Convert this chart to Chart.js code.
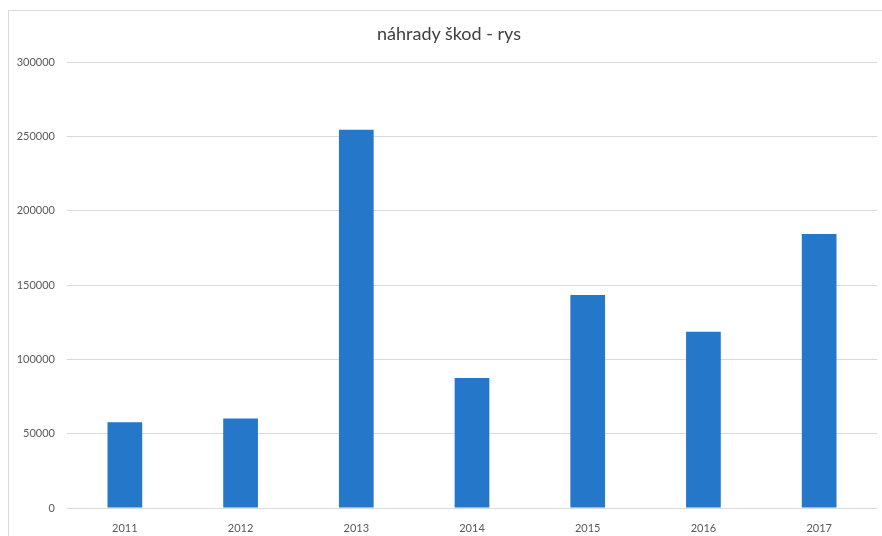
<!doctype html>
<html lang="cs">

<head>
    <meta charset="utf-8">
    <title>náhrady škod - rys</title>
    <style>
        body { margin: 0; background: white; }
        .wrap { position: relative; width: 882px; height: 536px; }
        .frame { position: absolute; left: 8px; top: 10px; right: 0; bottom: 0; border-left: 1px solid #d9d9d9; border-top: 1px solid #d9d9d9; pointer-events: none; }
        .title { position: absolute; left: 8px; width: 882px; top: 22px; text-align: center; font-family: Lato, sans-serif; font-size: 18px; color: #404040; }
    </style>
</head>

<body>
    <div class="wrap">
        <canvas id="chart"></canvas>
        <div class="frame"></div>
        <div class="title">náhrady škod - rys</div>
    </div>

    <script src="https://cdn.jsdelivr.net/npm/chart.js"></script>
    <script>
        const years = ["2011", "2012", "2013", "2014", "2015", "2016", "2017"];
        const damages = [57700, 60200, 254500, 87500, 143300, 118600, 184300];

        const ctx = document.getElementById("chart");
        new Chart(ctx, {
            type: 'bar',
            data: {
                labels: years,
                datasets: [{
                    label: "náhrady škod",
                    data: damages,
                    backgroundColor: "#2577c9",
                    barPercentage: 0.6,
                    categoryPercentage: 0.5
                }]
            },
            options: {
                responsive: true,
                maintainAspectRatio: false,
                animation: false,
                layout: { padding: { left: 0, right: 5, top: 62, bottom: 0 } },
                plugins: {
                    legend: { display: false },
                    tooltip: { enabled: false },
                    title: { display: false }
                },
                scales: {
                    x: {
                        grid: { display: false },
                        border: { display: false },
                        ticks: { color: "#595959", font: { family: "Lato", size: 11 }, padding: 6 },
                        afterFit: (s) => { s.height = 28; }
                    },
                    y: {
                        min: 0,
                        max: 300000,
                        ticks: {
                            stepSize: 50000, color: "#595959", font: { family: "Lato", size: 11 }, padding: 12,
                            callback: (v) => String(v)
                        },
                        grid: { color: "#d9d9d9", drawTicks: false },
                        border: { display: false },
                        afterFit: (s) => { s.width = 67; }
                    }
                }
            }
        });
    </script>
</body>

</html>
